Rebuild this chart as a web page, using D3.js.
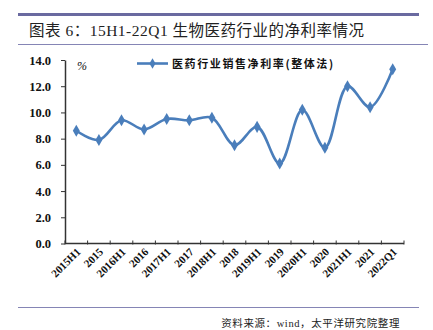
<!DOCTYPE html>
<html>
<head>
<meta charset="utf-8">
<script src="https://cdn.jsdelivr.net/npm/d3@7/dist/d3.min.js"></script>
<style>
  html, body { margin: 0; padding: 0; background: #fff; }
  svg { display: block; }
</style>
</head>
<body>
<svg id="chart" width="433" height="330"></svg>
<script>
// Net margin of the pharma sector, 2015H1 – 2022Q1
const categories = ["2015H1","2015","2016H1","2016","2017H1","2017","2018H1","2018",
                    "2019H1","2019","2020H1","2020","2021H1","2021","2022Q1"];
const netMargin = [8.6, 7.9, 9.4, 8.7, 9.5, 9.4, 9.6, 7.5, 8.9, 6.1, 10.2, 7.3, 12.0, 10.4, 13.3];
const yTicks = [0, 2, 4, 6, 8, 10, 12, 14];
const seriesName = "医药行业销售净利率(整体法)";
const titleText = "图表 6：15H1-22Q1 生物医药行业的净利率情况";
const sourceText = "资料来源：wind，太平洋研究院整理";

(function draw() {
  const svg = d3.select("#chart");
  const serif = "'Liberation Serif', 'Times New Roman', 'Noto Sans CJK SC', serif";
  const blue = "#4a7ebb";

  // Header rules and title
  svg.append("rect").attr("x", 18).attr("y", 13).attr("width", 401).attr("height", 3).attr("fill", "#6a6aa0");
  svg.append("rect").attr("x", 18).attr("y", 44).attr("width", 410).attr("height", 1).attr("fill", "#8585b5");
  svg.append("text").attr("x", 29).attr("y", 36)
    .attr("font-family", serif).attr("font-size", 15.5).attr("fill", "#222")
    .attr("letter-spacing", 0.5)
    .text(titleText);

  // Footer rule and source
  svg.append("rect").attr("x", 18).attr("y", 307).attr("width", 401).attr("height", 1).attr("fill", "#8585b5");
  svg.append("text").attr("x", 400).attr("y", 327).attr("text-anchor", "end")
    .attr("font-family", serif).attr("font-size", 10.5).attr("fill", "#222")
    .attr("letter-spacing", 0.6)
    .text(sourceText);

  // Plot area
  const pLeft = 65, pRight = 404, pTop = 60, pBottom = 243.5;
  const x = d3.scaleBand().domain(categories).range([pLeft, pRight]).padding(0);
  const y = d3.scaleLinear().domain([0, 14]).range([pBottom, pTop]);

  // Y axis
  const yAxis = svg.append("g").attr("transform", `translate(${pLeft},0)`)
    .call(d3.axisLeft(y).tickValues(yTicks).tickFormat(d3.format(".1f")).tickSize(4).tickSizeOuter(0));
  yAxis.select(".domain").attr("stroke", "#333").attr("stroke-width", 1.5);
  yAxis.selectAll(".tick line").attr("stroke", "#333");
  yAxis.selectAll(".tick text")
    .attr("x", -14).attr("font-family", serif).attr("font-weight", "bold")
    .attr("font-size", 12.5).attr("fill", "#111");

  // X axis: ticks at band boundaries, pointing up
  const xAxis = svg.append("g").attr("transform", `translate(0,${pBottom})`);
  xAxis.append("line").attr("x1", pLeft).attr("x2", pRight).attr("stroke", "#333").attr("stroke-width", 1.5);
  const bounds = d3.range(categories.length + 1).map(i => pLeft + i * x.bandwidth());
  xAxis.selectAll("line.tk").data(bounds).join("line").attr("class", "tk")
    .attr("x1", d => d).attr("x2", d => d).attr("y1", -3).attr("y2", 1)
    .attr("stroke", "#333");
  xAxis.selectAll("text.lbl").data(categories).join("text").attr("class", "lbl")
    .attr("transform", d => `translate(${x(d) + x.bandwidth() / 2 + 5},${9}) rotate(-45)`)
    .attr("text-anchor", "end")
    .attr("font-family", serif).attr("font-weight", "bold").attr("font-size", 11)
    .attr("fill", "#111")
    .text(d => d);

  // Unit label
  svg.append("text").attr("x", 77).attr("y", 70)
    .attr("font-family", serif).attr("font-style", "italic").attr("font-size", 12).attr("fill", "#111")
    .text("%");

  // Series line
  const pts = categories.map((c, i) => [x(c) + x.bandwidth() / 2, y(netMargin[i])]);
  svg.append("path")
    .attr("d", d3.line().curve(d3.curveCatmullRom.alpha(0.5))(pts))
    .attr("fill", "none").attr("stroke", blue).attr("stroke-width", 2.6);

  const diamond = d3.symbol().type(d3.symbolDiamond).size(42);
  svg.selectAll("path.mk").data(pts).join("path").attr("class", "mk")
    .attr("transform", d => `translate(${d[0]},${d[1]})`)
    .attr("d", diamond).attr("fill", blue);

  // Legend
  svg.append("line").attr("x1", 137).attr("x2", 168).attr("y1", 63.5).attr("y2", 63.5)
    .attr("stroke", blue).attr("stroke-width", 2.6);
  svg.append("path").attr("transform", "translate(152.5,63.5)")
    .attr("d", d3.symbol().type(d3.symbolDiamond).size(32)).attr("fill", blue);
  svg.append("text").attr("x", 172).attr("y", 68)
    .attr("font-family", "'Noto Sans CJK SC', sans-serif").attr("font-weight", "bold")
    .attr("font-size", 11).attr("letter-spacing", 1.6).attr("fill", "#111")
    .text(seriesName);
})();
</script>
</body>
</html>
